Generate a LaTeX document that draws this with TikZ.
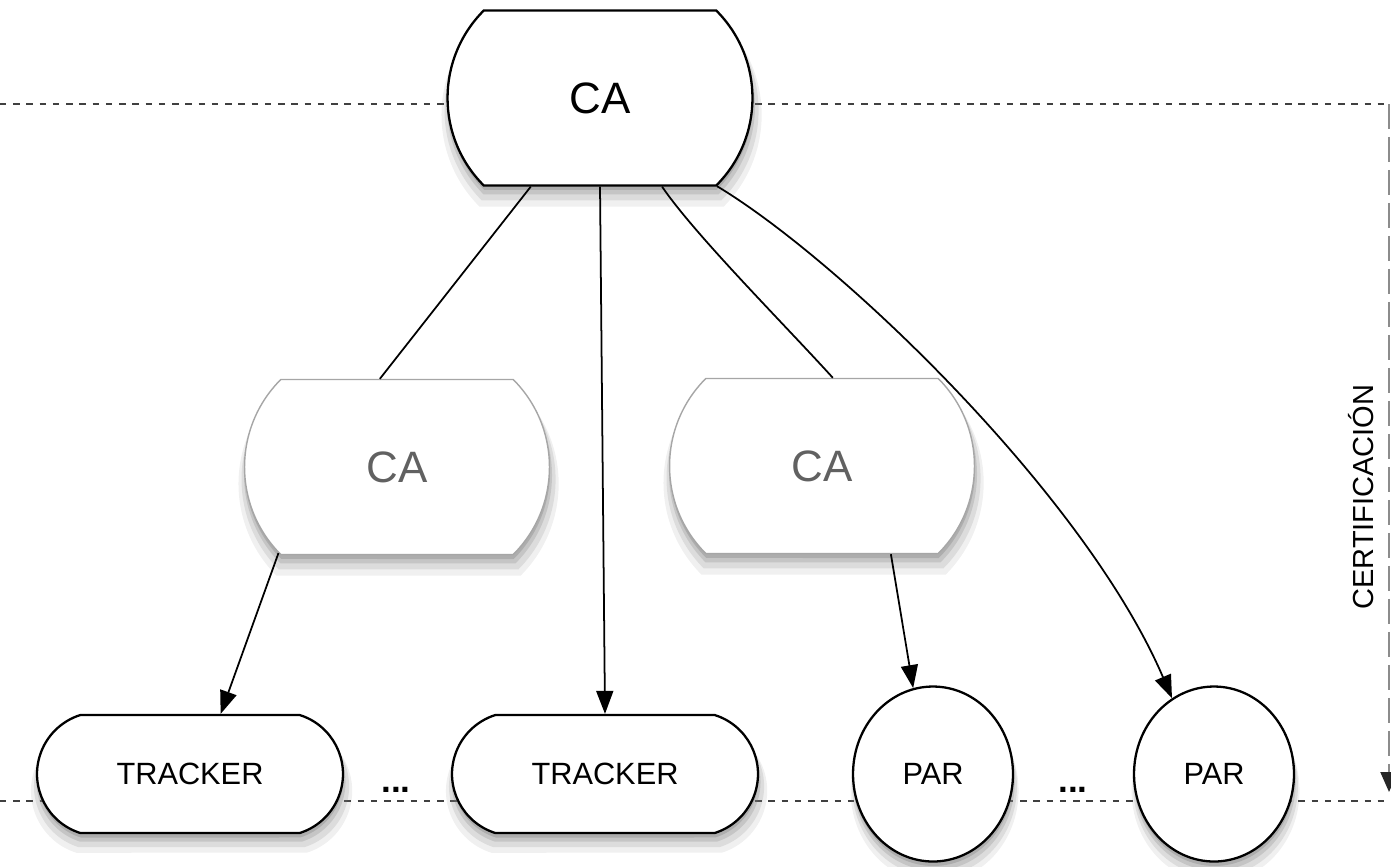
\documentclass[tikz,border=0pt]{standalone}
\usepackage{fontspec}
\setmainfont{Liberation Sans}
\usetikzlibrary{shapes.misc,shapes.geometric,arrows.meta,shadows}

\begin{document}
\begin{tikzpicture}[x=0.02cm,y=-0.02cm,
  softshadow/.style={drop shadow={opacity=0.12, shadow xshift=0.3mm, shadow yshift=-3.2mm, shadow scale=1.05},
    drop shadow={opacity=0.18, shadow xshift=0.3mm, shadow yshift=-2.4mm, shadow scale=1.03},
    drop shadow={opacity=0.25, shadow xshift=0.2mm, shadow yshift=-1.6mm, shadow scale=1.01},
    drop shadow={opacity=0.35, shadow xshift=0.1mm, shadow yshift=-0.9mm}},
  capsule/.style={rounded rectangle, rounded rectangle arc length=90, draw=black, line width=1.3pt, fill=white,
    minimum width=6.1cm, minimum height=3.5cm, inner sep=0pt, font=\fontsize{25}{30}\selectfont, softshadow},
  subca/.style={capsule, draw=black!35, line width=0.8pt, text=black!62},
  trackerbox/.style={capsule, rounded rectangle arc length=145, minimum width=6.12cm, minimum height=2.36cm,
    font=\fontsize{17.5}{21}\selectfont},
  parnode/.style={ellipse, draw=black, line width=1.3pt, fill=white, minimum width=3.2cm, minimum height=3.5cm,
    inner sep=0pt, font=\fontsize{17.5}{21}\selectfont, softshadow},
  link/.style={line width=1pt},
  arrowlink/.style={link, -{Triangle[length=4.6mm,width=3.4mm]}},
  levelline/.style={dash pattern=on 1.3mm off 1.35mm, line width=0.8pt, black!75}]
\useasboundingbox (0,0) rectangle (1391,866);
\coordinate (topleft) at (0,104);
\coordinate (topright) at (1389,104);
\coordinate (bottomleft) at (0,801);
\coordinate (bottomright) at (1389,801);
\coordinate (arrowend) at (1389,792);
\draw[levelline] (topleft) -- (topright);
\draw[levelline] (bottomleft) -- (bottomright);
\draw[line width=1.2pt, black!45, dash pattern=on 5mm off 1.6mm, -{Triangle[length=4mm,width=3.4mm,color=black!85]}] (topright) -- (arrowend);
\node[rotate=90, anchor=base, font=\fontsize{16.5}{20}\selectfont] (certlabel) at (1373,497) {CERTIFICACIÓN};
\node[capsule] (rootca) at (600,98) {CA};
\node[subca] (caleft) at (397,467) {CA};
\node[subca] (caright) at (822,466) {CA};
\node[trackerbox] (trackera) at (190,774) {TRACKER};
\node[trackerbox] (trackerb) at (605,774) {TRACKER};
\node[parnode] (para) at (933,774) {PAR};
\node[parnode] (parb) at (1214,774) {PAR};
\node[anchor=base, font=\fontsize{20}{24}\selectfont\bfseries] (dotsa) at (396,792) {...};
\node[anchor=base, font=\fontsize{20}{24}\selectfont\bfseries] (dotsb) at (1073,792) {...};
\draw[link] (rootca.232) -- (caleft.101);
\draw[link] (rootca.305) .. controls (695,235) and (785,325) .. (caright.83);
\draw[arrowlink] (rootca.south) -- (trackerb.north);
\draw[arrowlink] (rootca.323) .. controls (840,260) and (1085,495) .. (parb.119);
\draw[arrowlink] (caleft.216) -- (trackera.63);
\draw[arrowlink] (caright.308) -- (para.103);
\end{tikzpicture}
\end{document}
